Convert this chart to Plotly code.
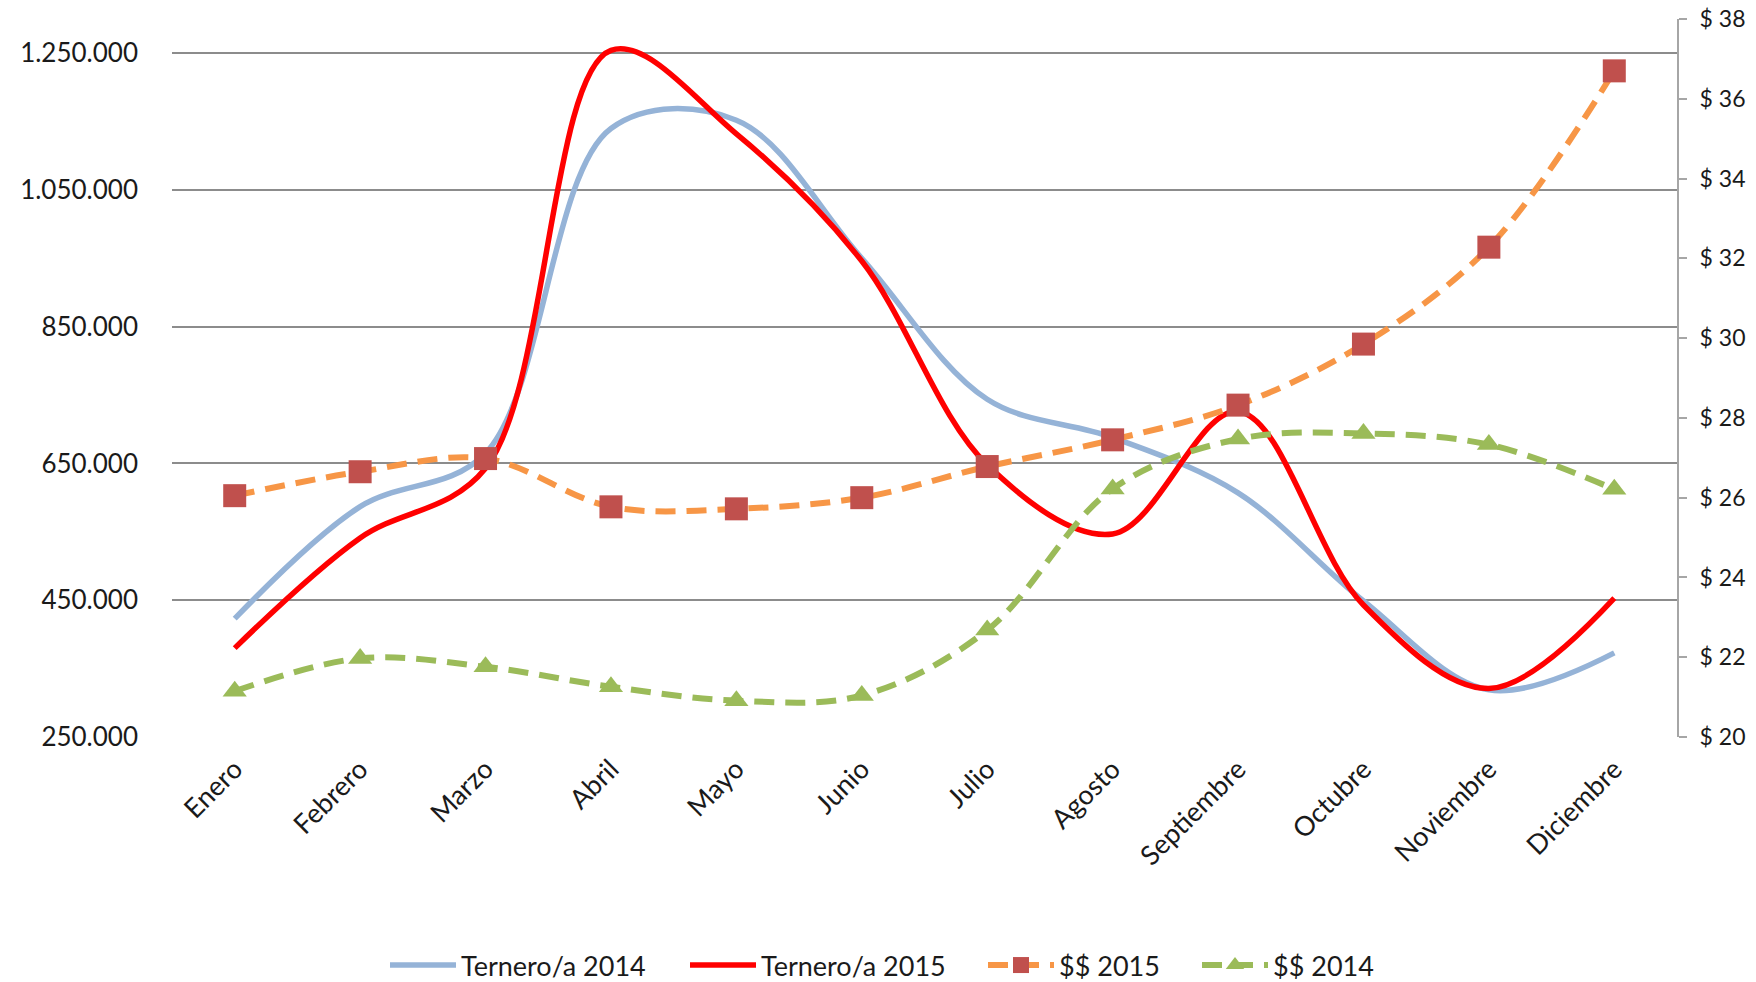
import plotly.graph_objects as go

months = ["Enero", "Febrero", "Marzo", "Abril", "Mayo", "Junio", "Julio",
          "Agosto", "Septiembre", "Octubre", "Noviembre", "Diciembre"]
ternero_2014 = [423000, 587000, 665000, 1140000, 1152000, 950000, 744000,
                688000, 607000, 449000, 319000, 373000]
ternero_2015 = [380000, 541000, 643000, 1254000, 1132000, 946000, 648000,
                547000, 726000, 443000, 321000, 453000]
precio_2015 = [26.05, 26.65, 26.98, 25.77, 25.72, 26.00, 26.78, 27.45,
               28.32, 29.85, 32.28, 36.70]
precio_2014 = [21.15, 21.97, 21.76, 21.26, 20.91, 21.04, 22.68, 26.22,
               27.47, 27.61, 27.33, 26.21]

left_ticks = [250000, 450000, 650000, 850000, 1050000, 1250000]
right_ticks = list(range(20, 39, 2))
right_text = ["$ %d" % v for v in right_ticks]

FONT = "Lato, Open Sans, sans-serif"
GRID = "#8c8c8c"
TXT = "#1a1a1a"

fig = go.Figure()
fig.add_trace(go.Scatter(
    x=months, y=ternero_2014, name="Ternero/a 2014", mode="lines", legend="legend",
    line=dict(color="#95B3D7", width=5.5, shape="spline", smoothing=1.0),
))
fig.add_trace(go.Scatter(
    x=months, y=ternero_2015, name="Ternero/a 2015", mode="lines", legend="legend2",
    line=dict(color="#FF0000", width=5.5, shape="spline", smoothing=1.0),
))
fig.add_trace(go.Scatter(
    x=months, y=precio_2015, name="$$ 2015", mode="lines+markers", yaxis="y2",
    legend="legend3",
    line=dict(color="#F79646", width=6, dash="20px,11px", shape="spline", smoothing=1.0),
    marker=dict(symbol="square", size=23, color="#C0504D"),
))
fig.add_trace(go.Scatter(
    x=months, y=precio_2014, name="$$ 2014", mode="lines+markers", yaxis="y2",
    legend="legend4",
    line=dict(color="#9BBB59", width=6, dash="20px,11px", shape="spline", smoothing=1.0),
    marker=dict(symbol="triangle-up", size=21, color="#9BBB59"),
))

legend_y = 1 - 965.5 / 982


def leg(xpix):
    return dict(orientation="h", xref="container", yref="container",
                x=xpix / 1756, xanchor="left", y=legend_y, yanchor="middle",
                font=dict(family=FONT, size=27, color=TXT),
                itemwidth=66, bgcolor="rgba(0,0,0,0)")


fig.update_layout(
    width=1756, height=982,
    margin=dict(l=172, r=79, t=19, b=245, autoexpand=False),
    paper_bgcolor="white", plot_bgcolor="white",
    separators=",.",
    font=dict(family=FONT, size=24, color=TXT),
    showlegend=True,
    legend=leg(385), legend2=leg(685), legend3=leg(983), legend4=leg(1197),
    xaxis=dict(
        tickangle=-45, showgrid=False, showline=False, ticks="",
        tickfont=dict(family=FONT, size=27, color=TXT),
        range=[-0.5, 11.5], automargin=False, ticklabelstandoff=10,
    ),
    yaxis=dict(
        range=[250000, 1300000], tickvals=left_ticks, tickformat=",d",
        showgrid=True, gridcolor=GRID, gridwidth=1.5,
        showline=False, ticks="", zeroline=False, automargin=False,
        tickfont=dict(family=FONT, size=26, color=TXT),
        ticklabelstandoff=33,
    ),
    yaxis2=dict(
        range=[20, 38], tickvals=right_ticks, ticktext=right_text,
        overlaying="y", side="right", showgrid=False, zeroline=False,
        showline=True, linecolor="#a6a6a6", linewidth=2, automargin=False,
        ticks="outside", ticklen=8, tickcolor="#a6a6a6", tickwidth=1.5,
        tickfont=dict(family=FONT, size=23, color=TXT),
        ticklabelstandoff=8,
    ),
)

fig.write_html("out.html", config={"displayModeBar": False},
               post_script="document.body.style.margin='0';")
